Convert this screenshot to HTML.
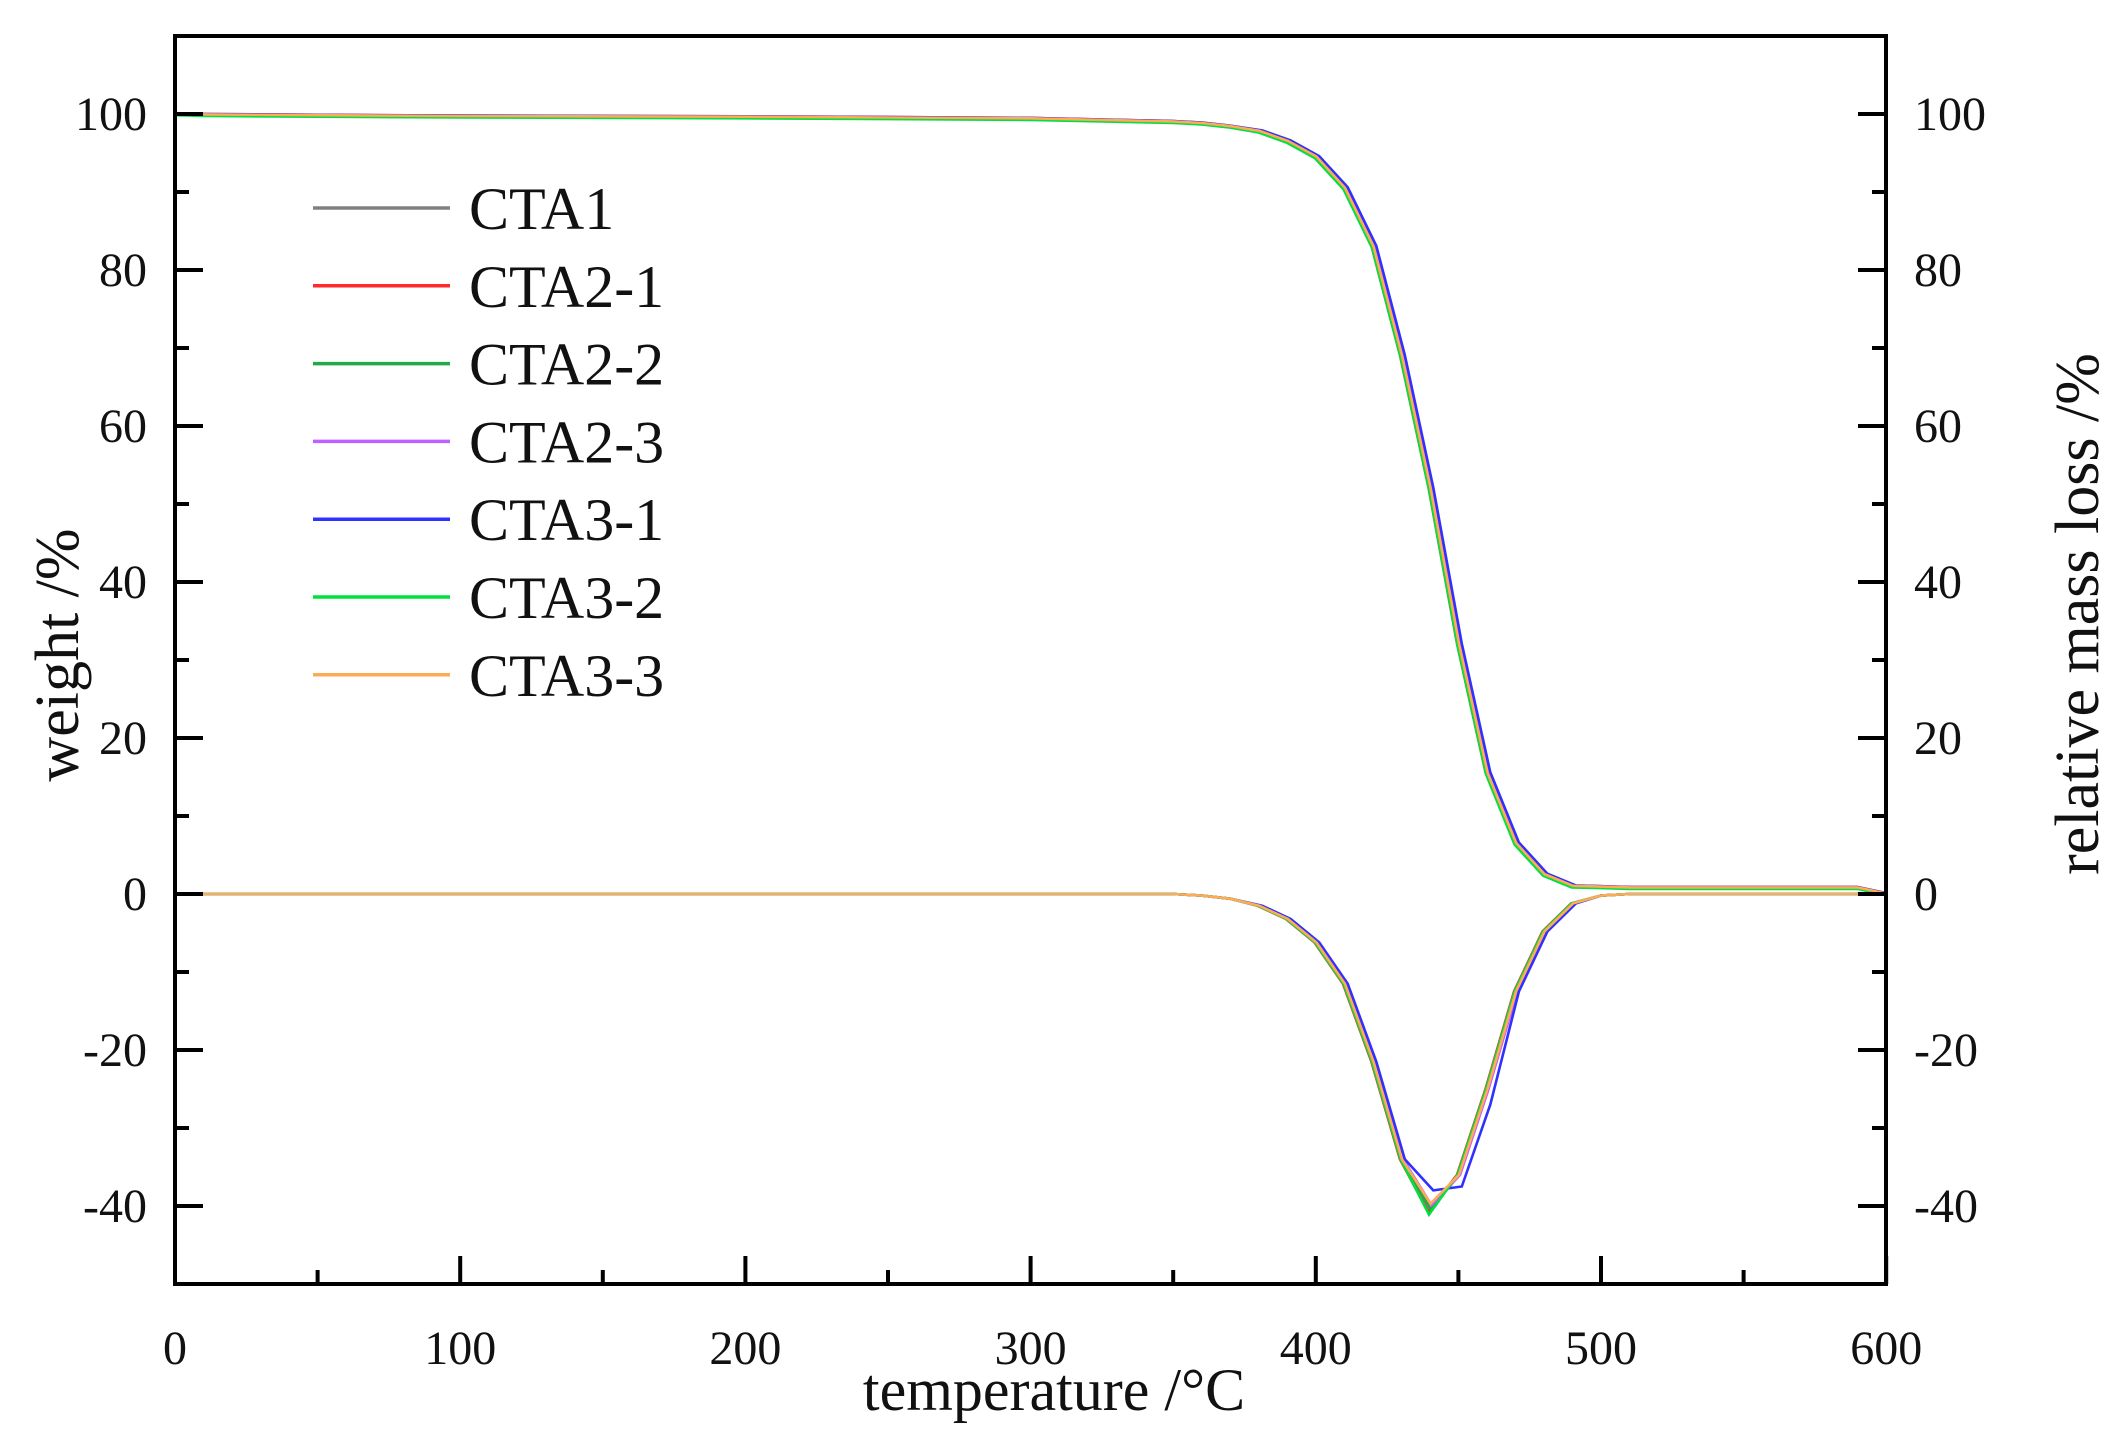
<!DOCTYPE html>
<html><head><meta charset="utf-8">
<style>
html,body{margin:0;padding:0;background:#fff;}
svg{display:block;}
text{font-family:"Liberation Serif",serif;fill:#111;}
</style></head>
<body>
<svg id="s" width="2128" height="1446" viewBox="0 0 2128 1446" xmlns="http://www.w3.org/2000/svg">
</svg>
<script>
const S=document.getElementById('s');
const X=t=>175+2.852*t, Y=v=>894-7.8*v;
let h='';
const T=[0,10,50,100,200,300,350,360,370,380,390,400,410,420,430,440,450,460,470,480,490,500,510,590,600];
const TG=[100,99.9,99.8,99.7,99.6,99.4,99,98.8,98.4,97.8,96.5,94.5,90.5,83,69,52,32,15.5,6.5,2.5,1,0.9,0.8,0.8,0];
const DT=[0,0,0,0,0,0,0,-0.2,-0.6,-1.5,-3.2,-6.2,-11.5,-21.5,-34,-40.5,-36,-25,-12.5,-4.8,-1.2,-0.2,0,0,0];
const ser=[
 ['#808080',0,0,0],['#ff2a2a',-0.5,0.1,0.3],['#22aa44',0.3,-0.1,-0.1],['#c060ff',0.6,0.05,-0.6],
 ['#3030ff',1.2,0.1,-2.5],['#00e040',-0.3,-0.15,0.6],['#ffaa55',0.2,0.05,-0.8]];
for(const [c,dx,dy,dm] of ser){
  let p1=[],p2=[];
  for(let i=0;i<T.length;i++){
    const t=T[i]+((T[i]>370&&T[i]<500)?dx:0);
    p1.push(X(t).toFixed(1)+','+Y(TG[i]+dy).toFixed(1));
    let d=DT[i]; if(T[i]==440) d-=dm*1; if(T[i]==450&&c=='#3030ff') d-=1.5; if(T[i]==460&&c=='#3030ff') d-=2;
    p2.push(X(t).toFixed(1)+','+Y(d).toFixed(1));
  }
  h+=`<polyline points="${p1.join(' ')}" fill="none" stroke="${c}" stroke-width="2.6"/>`;
  h+=`<polyline points="${p2.join(' ')}" fill="none" stroke="${c}" stroke-width="2.6"/>`;
}
h+=`<rect x="175" y="36" width="1711" height="1248" fill="none" stroke="#000" stroke-width="4"/>`;
for(let t=0;t<=600;t+=50){const x=X(t);const L=t%100==0?28:14;
 h+=`<line x1="${x}" y1="1284" x2="${x}" y2="${1284-L}" stroke="#000" stroke-width="4"/>`;
 if(t%100==0) h+=`<text x="${x}" y="1364" font-size="48" text-anchor="middle">${t}</text>`;}
for(let v=-40;v<=100;v+=10){const y=Y(v);const L=v%20==0?28:14;
 h+=`<line x1="175" y1="${y}" x2="${175+L}" y2="${y}" stroke="#000" stroke-width="4"/>`;
 h+=`<line x1="1886" y1="${y}" x2="${1886-L}" y2="${y}" stroke="#000" stroke-width="4"/>`;
 if(v%20==0){h+=`<text x="147" y="${y+16}" font-size="48" text-anchor="end">${v}</text>`;
  h+=`<text x="1914" y="${y+16}" font-size="48" text-anchor="start">${v}</text>`;}}
h+=`<text x="1054" y="1410" font-size="60" text-anchor="middle">temperature /°C</text>`;
h+=`<text transform="translate(78,655) rotate(-90)" font-size="62" text-anchor="middle">weight /%</text>`;
h+=`<text transform="translate(2098,614) rotate(-90)" font-size="62" text-anchor="middle">relative mass loss /%</text>`;
const names=['CTA1','CTA2-1','CTA2-2','CTA2-3','CTA3-1','CTA3-2','CTA3-3'];
for(let i=0;i<7;i++){const y=208+i*77.8;
 h+=`<line x1="313" y1="${y}" x2="450" y2="${y}" stroke="${ser[i][0]}" stroke-width="3.5"/>`;
 h+=`<text x="469" y="${y+21}" font-size="60">${names[i]}</text>`;}
S.innerHTML=h;
</script>
</body></html>
